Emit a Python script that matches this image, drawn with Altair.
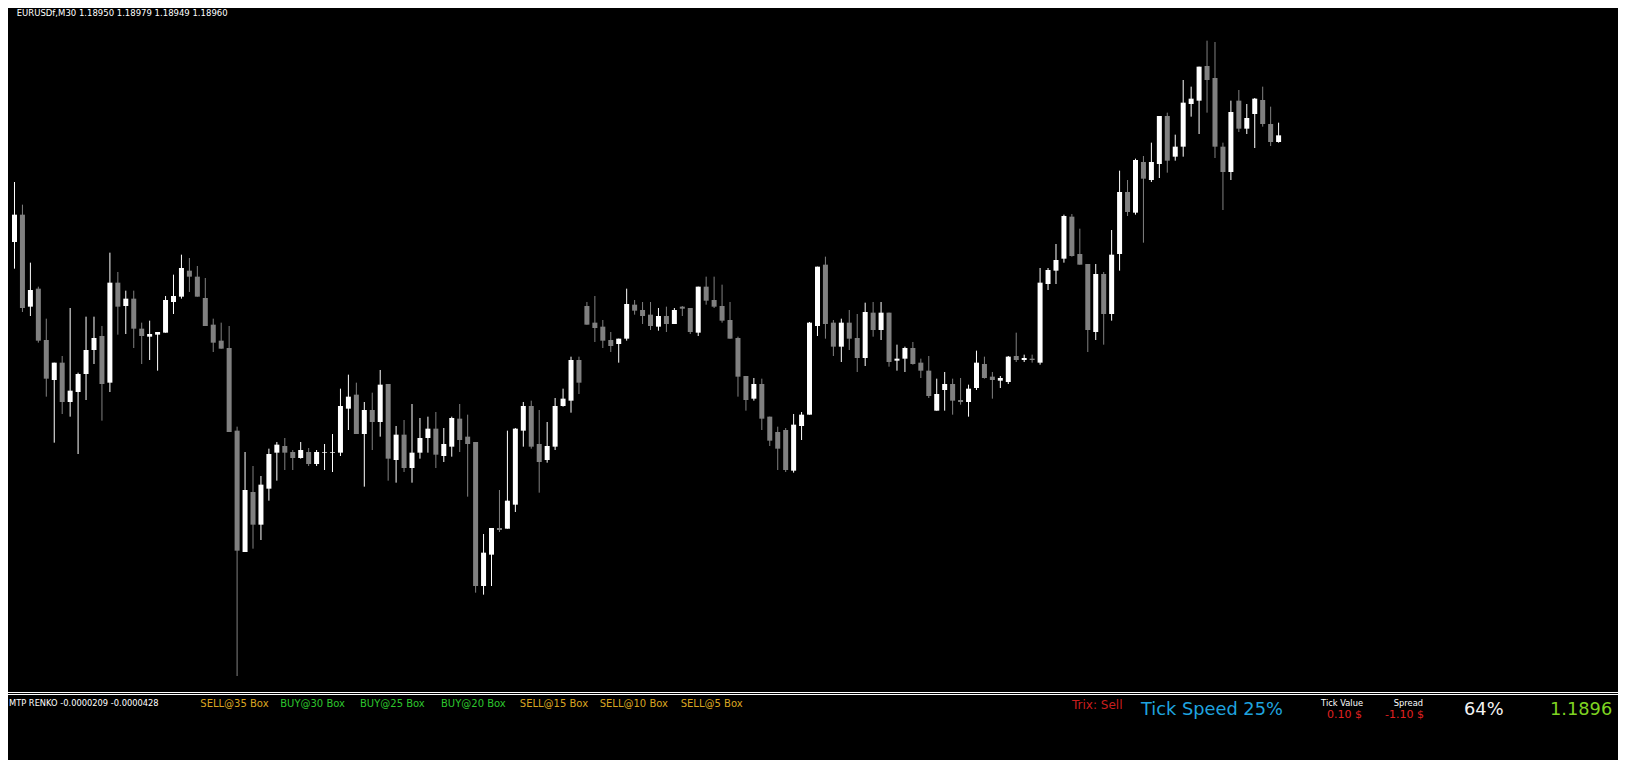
import altair as alt
import pandas as pd

# ---------------- data (EURUSDf, M30, oldest -> newest) ----------------
opens = [1.18800, 1.18841, 1.18703, 1.18730, 1.18653, 1.18593, 1.18619, 1.18560, 1.18575, 1.18602,
         1.18638, 1.18659, 1.18589, 1.18739, 1.18704, 1.18715, 1.18670, 1.18658, 1.18661, 1.18664,
         1.18710, 1.18718, 1.18757, 1.18748, 1.18716, 1.18676, 1.18652, 1.18641, 1.18517, 1.18335,
         1.18425, 1.18376, 1.18430, 1.18484, 1.18494, 1.18485, 1.18476, 1.18485, 1.18467, 1.18484,
         1.18484, 1.18484, 1.18550, 1.18571, 1.18512, 1.18548, 1.18530, 1.18587, 1.18473, 1.18511,
         1.18461, 1.18484, 1.18506, 1.18520, 1.18479, 1.18493, 1.18535, 1.18508, 1.18500, 1.18284,
         1.18331, 1.18371, 1.18370, 1.18406, 1.18517, 1.18554, 1.18497, 1.18473, 1.18493, 1.18554,
         1.18562, 1.18623, 1.18704, 1.18679, 1.18673, 1.18653, 1.18647, 1.18655, 1.18706, 1.18698,
         1.18691, 1.18673, 1.18689, 1.18677, 1.18703, 1.18701, 1.18664, 1.18733, 1.18713, 1.18704,
         1.18683, 1.18656, 1.18599, 1.18565, 1.18587, 1.18538, 1.18515, 1.18518, 1.18457, 1.18524,
         1.18541, 1.18674, 1.18766, 1.18679, 1.18643, 1.18679, 1.18656, 1.18626, 1.18694, 1.18668,
         1.18694, 1.18622, 1.18625, 1.18641, 1.18619, 1.18607, 1.18547, 1.18578, 1.18587, 1.18563,
         1.18560, 1.18581, 1.18617, 1.18598, 1.18592, 1.18590, 1.18629, 1.18623, 1.18625, 1.18619,
         1.18737, 1.18757, 1.18775, 1.18838, 1.18782, 1.18767, 1.18665, 1.18752, 1.18692, 1.18782,
         1.18875, 1.18844, 1.18920, 1.18893, 1.18917, 1.18989, 1.18928, 1.18943, 1.19007, 1.19012,
         1.19064, 1.19046, 1.18943, 1.18905, 1.19012, 1.18970, 1.18992, 1.19013, 1.18977, 1.18950]
highs = [1.18890, 1.18856, 1.18769, 1.18733, 1.18685, 1.18619, 1.18629, 1.18701, 1.18604, 1.18688,
         1.18688, 1.18674, 1.18784, 1.18755, 1.18727, 1.18727, 1.18679, 1.18682, 1.18665, 1.18719,
         1.18751, 1.18781, 1.18776, 1.18764, 1.18746, 1.18685, 1.18679, 1.18674, 1.18523, 1.18485,
         1.18464, 1.18449, 1.18490, 1.18500, 1.18506, 1.18488, 1.18500, 1.18491, 1.18488, 1.18497,
         1.18512, 1.18580, 1.18601, 1.18589, 1.18560, 1.18574, 1.18608, 1.18587, 1.18524, 1.18533,
         1.18557, 1.18536, 1.18538, 1.18545, 1.18521, 1.18538, 1.18557, 1.18541, 1.18500, 1.18362,
         1.18371, 1.18428, 1.18517, 1.18521, 1.18560, 1.18562, 1.18548, 1.18530, 1.18566, 1.18580,
         1.18628, 1.18628, 1.18710, 1.18719, 1.18683, 1.18665, 1.18655, 1.18730, 1.18713, 1.18710,
         1.18710, 1.18701, 1.18703, 1.18701, 1.18704, 1.18701, 1.18733, 1.18748, 1.18748, 1.18736,
         1.18710, 1.18658, 1.18599, 1.18596, 1.18595, 1.18538, 1.18523, 1.18521, 1.18542, 1.18545,
         1.18680, 1.18763, 1.18778, 1.18683, 1.18685, 1.18698, 1.18692, 1.18709, 1.18710, 1.18710,
         1.18694, 1.18646, 1.18643, 1.18650, 1.18625, 1.18629, 1.18595, 1.18605, 1.18595, 1.18596,
         1.18586, 1.18637, 1.18628, 1.18605, 1.18599, 1.18629, 1.18664, 1.18631, 1.18631, 1.18761,
         1.18761, 1.18797, 1.18841, 1.18842, 1.18820, 1.18767, 1.18767, 1.18755, 1.18818, 1.18907,
         1.18893, 1.18925, 1.18929, 1.18949, 1.18989, 1.18994, 1.18961, 1.19043, 1.19033, 1.19063,
         1.19102, 1.19100, 1.18949, 1.19012, 1.19028, 1.19007, 1.19016, 1.19033, 1.19003, 1.18979]
lows = [1.18760, 1.18695, 1.18689, 1.18649, 1.18568, 1.18499, 1.18542, 1.18538, 1.18482, 1.18563,
        1.18617, 1.18532, 1.18575, 1.18661, 1.18662, 1.18641, 1.18617, 1.18623, 1.18607, 1.18664,
        1.18692, 1.18715, 1.18725, 1.18718, 1.18674, 1.18635, 1.18640, 1.18515, 1.18149, 1.18335,
        1.18340, 1.18353, 1.18412, 1.18442, 1.18458, 1.18458, 1.18475, 1.18464, 1.18464, 1.18458,
        1.18455, 1.18479, 1.18518, 1.18512, 1.18433, 1.18488, 1.18508, 1.18442, 1.18439, 1.18455,
        1.18439, 1.18475, 1.18484, 1.18461, 1.18470, 1.18478, 1.18485, 1.18418, 1.18274, 1.18271,
        1.18284, 1.18365, 1.18370, 1.18395, 1.18493, 1.18490, 1.18424, 1.18469, 1.18488, 1.18553,
        1.18544, 1.18572, 1.18676, 1.18650, 1.18641, 1.18635, 1.18619, 1.18652, 1.18691, 1.18677,
        1.18668, 1.18667, 1.18665, 1.18677, 1.18689, 1.18662, 1.18659, 1.18706, 1.18701, 1.18679,
        1.18655, 1.18568, 1.18547, 1.18562, 1.18518, 1.18494, 1.18458, 1.18455, 1.18454, 1.18503,
        1.18541, 1.18659, 1.18655, 1.18629, 1.18620, 1.18638, 1.18605, 1.18614, 1.18658, 1.18653,
        1.18613, 1.18607, 1.18605, 1.18616, 1.18596, 1.18566, 1.18547, 1.18547, 1.18541, 1.18556,
        1.18538, 1.18578, 1.18595, 1.18565, 1.18581, 1.18587, 1.18620, 1.18620, 1.18619, 1.18616,
        1.18728, 1.18737, 1.18769, 1.18778, 1.18766, 1.18635, 1.18653, 1.18646, 1.18682, 1.18757,
        1.18839, 1.18841, 1.18799, 1.18890, 1.18896, 1.18904, 1.18922, 1.18928, 1.18988, 1.18962,
        1.18994, 1.18926, 1.18848, 1.18893, 1.18965, 1.18962, 1.18941, 1.18973, 1.18944, 1.18949]
closes = [1.18841, 1.18701, 1.18728, 1.18652, 1.18595, 1.18619, 1.18560, 1.18577, 1.18602, 1.18638,
          1.18656, 1.18587, 1.18739, 1.18703, 1.18715, 1.18670, 1.18659, 1.18662, 1.18665, 1.18713,
          1.18719, 1.18761, 1.18748, 1.18718, 1.18674, 1.18649, 1.18640, 1.18515, 1.18337, 1.18428,
          1.18376, 1.18436, 1.18482, 1.18496, 1.18484, 1.18476, 1.18488, 1.18467, 1.18485, 1.18485,
          1.18485, 1.18554, 1.18568, 1.18512, 1.18548, 1.18530, 1.18586, 1.18475, 1.18511, 1.18461,
          1.18484, 1.18506, 1.18520, 1.18481, 1.18497, 1.18536, 1.18503, 1.18497, 1.18284, 1.18334,
          1.18371, 1.18368, 1.18412, 1.18520, 1.18554, 1.18493, 1.18470, 1.18494, 1.18554, 1.18565,
          1.18623, 1.18589, 1.18676, 1.18671, 1.18652, 1.18644, 1.18655, 1.18707, 1.18697, 1.18689,
          1.18674, 1.18689, 1.18677, 1.18698, 1.18700, 1.18665, 1.18733, 1.18712, 1.18703, 1.18682,
          1.18655, 1.18598, 1.18563, 1.18587, 1.18535, 1.18502, 1.18490, 1.18458, 1.18526, 1.18541,
          1.18679, 1.18763, 1.18677, 1.18643, 1.18679, 1.18655, 1.18626, 1.18695, 1.18668, 1.18694,
          1.18620, 1.18625, 1.18641, 1.18617, 1.18607, 1.18569, 1.18572, 1.18587, 1.18562, 1.18560,
          1.18580, 1.18619, 1.18596, 1.18593, 1.18596, 1.18628, 1.18623, 1.18626, 1.18623, 1.18739,
          1.18758, 1.18773, 1.18839, 1.18779, 1.18766, 1.18668, 1.18752, 1.18692, 1.18781, 1.18875,
          1.18845, 1.18923, 1.18895, 1.18920, 1.18989, 1.18922, 1.18943, 1.19009, 1.19015, 1.19063,
          1.19043, 1.18943, 1.18905, 1.18995, 1.18970, 1.18986, 1.19015, 1.18977, 1.18950, 1.18960]

header_text = "EURUSDf,M30  1.18950 1.18979 1.18949 1.18960"
renko_text = "MTP RENKO -0.0000209 -0.0000428"
signal_labels = ["SELL@35 Box", "BUY@30 Box", "BUY@25 Box", "BUY@20 Box",
                 "SELL@15 Box", "SELL@10 Box", "SELL@5 Box"]
trix_text = "Trix: Sell"
tick_speed_text = "Tick Speed 25%"
tick_value_title, tick_value = "Tick Value", "0.10 $"
spread_title, spread_value = "Spread", "-1.10 $"
percent_text = "64%"
bid_text = "1.1896"

# ---------------- layout ----------------
W, H = 1611, 752
FONT = "DejaVu Sans"

df = pd.DataFrame({"bar": list(range(len(opens))), "open": opens, "high": highs,
                   "low": lows, "close": closes})
df["dir"] = ["up" if c >= o else "down" for o, c in zip(opens, closes)]

xs = alt.Scale(domain=[-0.1875, 201.1875], nice=False, zero=False)
ys = alt.Scale(domain=[1.18023, 1.19151], nice=False, zero=False)
col = alt.Color("dir:N", scale=alt.Scale(domain=["up", "down"], range=["#FFFFFF", "#808080"]),
                legend=None)

base = alt.Chart(df)
wicks = base.mark_rule(strokeWidth=1, clip=True).encode(
    x=alt.X("bar:Q", scale=xs, axis=None),
    y=alt.Y("low:Q", scale=ys, axis=None),
    y2="high:Q",
    color=col,
)
bodies = base.mark_bar(size=5, clip=True, strokeWidth=0).encode(
    x=alt.X("bar:Q", scale=xs, axis=None),
    y=alt.Y("open:Q", scale=ys, axis=None),
    y2="close:Q",
    color=col,
)

one = alt.Data(values=[{"k": 0}])


def label(text, x, y, color, size, align="left"):
    return alt.Chart(one).mark_text(
        text=text, align=align, baseline="alphabetic", font=FONT,
        fontSize=size, color=color,
    ).encode(x=alt.value(x), y=alt.value(y))


def hline(y):
    return alt.Chart(one).mark_rule(color="#FFFFFF", strokeWidth=1).encode(
        x=alt.value(0), x2=alt.value(W), y=alt.value(y))


layers = [wicks, bodies,
          hline(684.5), hline(686.5),
          alt.Chart(one).mark_rule(color="#FFFFFF", strokeWidth=1).encode(
              x=alt.value(W - 0.5), y=alt.value(0), y2=alt.value(H)),
          label(header_text, 8.7, 8, "#FFFFFF", 8.5),
          label(renko_text, 1, 698, "#FFFFFF", 8.3)]

sig_x = [192.3, 272.2, 352, 433, 511.8, 591.7, 672.7]
for s, sx in zip(signal_labels, sig_x):
    layers.append(label(s, sx, 699, "#DAA520" if s.startswith("SELL") else "#2DC52D", 10))

layers += [
    label(trix_text, 1064, 701, "#C81E1E", 12),
    label(tick_speed_text, 1133, 707, "#1FA3DF", 17.8),
    label(tick_value_title, 1355, 698, "#FFFFFF", 8.3, "right"),
    label(tick_value, 1354, 710, "#E02020", 11, "right"),
    label(spread_title, 1415, 698, "#FFFFFF", 8.3, "right"),
    label(spread_value, 1416, 710, "#E02020", 11, "right"),
    label(percent_text, 1456, 707, "#F4F4F4", 17.8),
    label(bid_text, 1542, 707, "#7ED321", 17.8),
]

chart = alt.layer(*layers).properties(
    width=W, height=H, padding=0,
    autosize=alt.AutoSizeParams(type="none"),
).configure(background="#000000").configure_view(strokeWidth=0)

chart.save("out.html", embed_options={"renderer": "svg", "actions": False})
